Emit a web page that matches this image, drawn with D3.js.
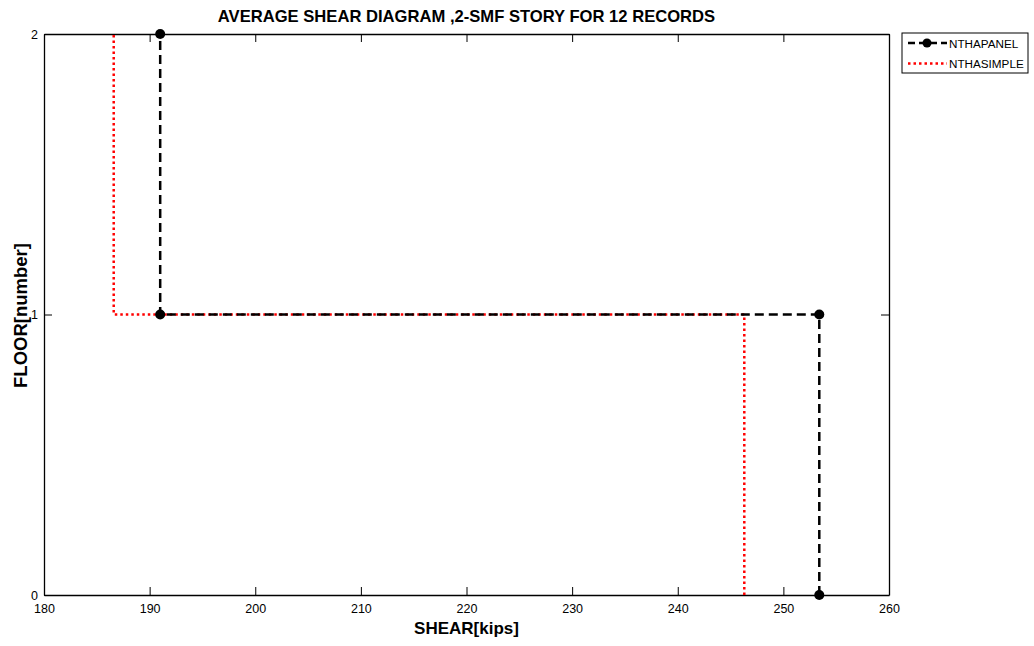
<!DOCTYPE html>
<html>
<head>
    <meta charset="utf-8" />
    <title>Average shear diagram</title>
    <script src="https://cdn.jsdelivr.net/npm/d3@7"></script>
    <style>
        body { margin: 0; background: #fff; }
        text { font-family: "Liberation Sans", Arial, sans-serif; }
    </style>
</head>
<body>
    <script>
        // data
        let floors = [0, 1, 1, 2]
        let panelShear = [253.4, 253.4, 191.0, 191.0]
        let simpleShear = [246.3, 246.3, 186.6, 186.6]
        let seriesNames = ['NTHAPANEL', 'NTHASIMPLE']
        let xTicks = [180, 190, 200, 210, 220, 230, 240, 250, 260]
        let yTicks = [0, 1, 2]

        let width = 1034,
            height = 646,
            margin = { top: 34, right: 145, bottom: 51, left: 44 }

        let innerW = width - margin.left - margin.right,
            innerH = height - margin.top - margin.bottom

        let svg = d3.select('body')
                    .append('svg')
                    .attr('width', width)
                    .attr('height', height)

        let x = d3.scaleLinear().domain([180, 260]).range([margin.left, margin.left + innerW])
        let y = d3.scaleLinear().domain([0, 2]).range([margin.top + innerH, margin.top])

        let tickLen = 8

        // axes, MATLAB style inner ticks on all four sides
        svg.append('g')
            .attr('transform', `translate(0, ${y(0)})`)
            .call(d3.axisBottom(x).tickValues(xTicks).tickSizeInner(-tickLen).tickSizeOuter(0).tickPadding(9))
        svg.append('g')
            .attr('transform', `translate(0, ${y(2)})`)
            .call(d3.axisTop(x).tickValues(xTicks).tickSizeInner(-tickLen).tickSizeOuter(0).tickFormat(''))
        svg.append('g')
            .attr('transform', `translate(${x(180)}, 0)`)
            .call(d3.axisLeft(y).tickValues(yTicks).tickSizeInner(-tickLen).tickSizeOuter(0).tickPadding(6).tickFormat(d3.format('d')))
        svg.append('g')
            .attr('transform', `translate(${x(260)}, 0)`)
            .call(d3.axisRight(y).tickValues(yTicks).tickSizeInner(-tickLen).tickSizeOuter(0).tickFormat(''))

        svg.selectAll('.domain').attr('stroke', '#000').attr('stroke-width', 1.3)
        svg.selectAll('.tick line').attr('stroke', '#000')
        svg.selectAll('.tick text').attr('font-size', 12.5).attr('fill', '#000')
            .attr('font-family', '"Liberation Sans", Arial, sans-serif')

        let line = d3.line()
            .x(function (d) { return x(d[0]) })
            .y(function (d) { return y(d[1]) })

        let simple = simpleShear.map(function (v, i) { return [v, floors[i]] })
        let panel = panelShear.map(function (v, i) { return [v, floors[i]] })

        svg.append('path')
            .attr('d', line(simple))
            .attr('fill', 'none')
            .attr('stroke', '#ff0000')
            .attr('stroke-width', 2.5)
            .attr('stroke-dasharray', '2.5,3')

        svg.append('path')
            .attr('d', line(panel))
            .attr('fill', 'none')
            .attr('stroke', '#000')
            .attr('stroke-width', 2.5)
            .attr('stroke-dasharray', '9,5')

        svg.selectAll('circle.pt')
            .data(panel)
            .enter()
            .append('circle')
            .classed('pt', true)
            .attr('cx', function (d) { return x(d[0]) })
            .attr('cy', function (d) { return y(d[1]) })
            .attr('r', 5)
            .attr('fill', '#000')

        // titles
        svg.append('text')
            .attr('x', margin.left + innerW / 2)
            .attr('y', 22)
            .attr('text-anchor', 'middle')
            .attr('font-size', 16.6)
            .attr('font-weight', 'bold')
            .text('AVERAGE SHEAR DIAGRAM ,2-SMF STORY FOR 12 RECORDS')

        svg.append('text')
            .attr('x', margin.left + innerW / 2)
            .attr('y', 634)
            .attr('text-anchor', 'middle')
            .attr('font-size', 17)
            .attr('font-weight', 'bold')
            .text('SHEAR[kips]')

        svg.append('text')
            .attr('transform', `translate(27, ${margin.top + innerH / 2 + 1}) rotate(-90)`)
            .attr('text-anchor', 'middle')
            .attr('font-size', 18.5)
            .attr('font-weight', 'bold')
            .text('FLOOR[number]')

        // legend
        let lg = svg.append('g').attr('transform', 'translate(902, 33)')
        lg.append('rect')
            .attr('width', 126)
            .attr('height', 40)
            .attr('fill', '#fff')
            .attr('stroke', '#000')
            .attr('stroke-width', 1)

        lg.append('line')
            .attr('x1', 6).attr('x2', 45).attr('y1', 10).attr('y2', 10)
            .attr('stroke', '#000').attr('stroke-width', 2.5).attr('stroke-dasharray', '7,4')
        lg.append('circle').attr('cx', 25).attr('cy', 10).attr('r', 4.5).attr('fill', '#000')
        lg.append('line')
            .attr('x1', 6).attr('x2', 45).attr('y1', 30.5).attr('y2', 30.5)
            .attr('stroke', '#ff0000').attr('stroke-width', 2.5).attr('stroke-dasharray', '2.5,3')

        lg.selectAll('text.lbl')
            .data(seriesNames)
            .enter()
            .append('text')
            .classed('lbl', true)
            .attr('x', 47)
            .attr('y', function (d, i) { return 14.5 + i * 20.5 })
            .attr('font-size', 11.7)
            .text(function (d) { return d })
    </script>
</body>
</html>
